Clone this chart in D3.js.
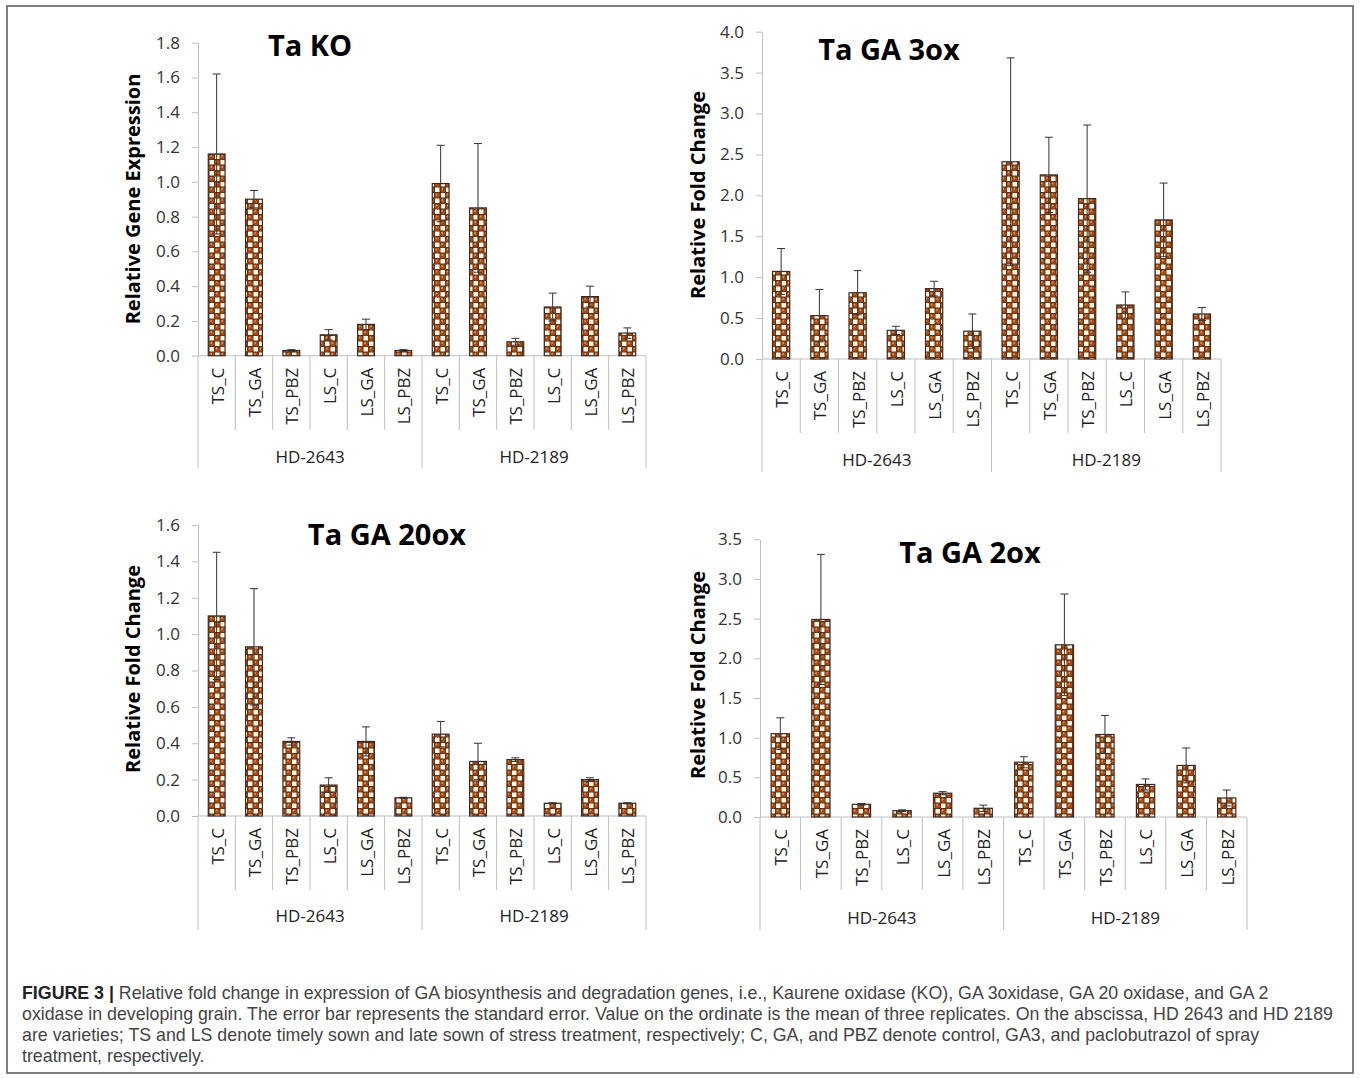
<!DOCTYPE html>
<html>
<head>
<meta charset="utf-8">
<script src="https://cdn.jsdelivr.net/npm/d3@7"></script>
<style>
  body { margin: 0; background: #fff; }
  .tick-label { font-family: "Open Sans", sans-serif; font-size: 17px; fill: #333; }
  .cat-label { font-family: "Open Sans", sans-serif; font-size: 17px; fill: #222; }
  .title { font-family: "Open Sans", sans-serif; font-size: 29px; font-weight: bold; fill: #000; }
  .axis-title { font-family: "Open Sans", sans-serif; font-size: 20px; font-weight: bold; fill: #000; }
  .caption { font-family: "Liberation Sans", Arial, sans-serif; font-size: 17.8px; fill: #444; }
</style>
</head>
<body>
<div id="chart"></div>
<script>
// svg area
var svgWidth = 1362;
var svgHeight = 1079;

// categories
var treatments = ["TS_C", "TS_GA", "TS_PBZ", "LS_C", "LS_GA", "LS_PBZ"];
var varieties = ["HD-2643", "HD-2189"];

// Ta KO
var koMean = [1.16, 0.90, 0.03, 0.12, 0.18, 0.03, 0.99, 0.85, 0.08, 0.28, 0.34, 0.13];
var koErr = [0.46, 0.05, 0.005, 0.03, 0.03, 0.005, 0.22, 0.37, 0.02, 0.08, 0.06, 0.03];

// Ta GA 3ox
var ga3Mean = [1.07, 0.53, 0.81, 0.35, 0.86, 0.34, 2.41, 2.25, 1.96, 0.66, 1.70, 0.55];
var ga3Err = [0.28, 0.32, 0.27, 0.05, 0.09, 0.21, 1.27, 0.46, 0.90, 0.16, 0.45, 0.08];

// Ta GA 20ox
var ga20Mean = [1.10, 0.93, 0.41, 0.17, 0.41, 0.10, 0.45, 0.30, 0.31, 0.07, 0.20, 0.07];
var ga20Err = [0.35, 0.32, 0.02, 0.04, 0.08, 0.003, 0.07, 0.10, 0.01, 0.003, 0.01, 0.003];

// Ta GA 2ox
var ga2Mean = [1.05, 2.49, 0.16, 0.08, 0.30, 0.11, 0.69, 2.17, 1.04, 0.41, 0.65, 0.24];
var ga2Err = [0.20, 0.82, 0.01, 0.01, 0.02, 0.04, 0.07, 0.64, 0.24, 0.07, 0.22, 0.10];

// y axis ticks
var koTicks = [0, 0.2, 0.4, 0.6, 0.8, 1.0, 1.2, 1.4, 1.6, 1.8];
var ga3Ticks = [0, 0.5, 1.0, 1.5, 2.0, 2.5, 3.0, 3.5, 4.0];
var ga20Ticks = [0, 0.2, 0.4, 0.6, 0.8, 1.0, 1.2, 1.4, 1.6];
var ga2Ticks = [0, 0.5, 1.0, 1.5, 2.0, 2.5, 3.0, 3.5];

var captionLines = [
    "Relative fold change in expression of GA biosynthesis and degradation genes, i.e., Kaurene oxidase (KO), GA 3oxidase, GA 20 oxidase, and GA 2",
    "oxidase in developing grain. The error bar represents the standard error. Value on the ordinate is the mean of three replicates. On the abscissa, HD 2643 and HD 2189",
    "are varieties; TS and LS denote timely sown and late sown of stress treatment, respectively; C, GA, and PBZ denote control, GA3, and paclobutrazol of spray",
    "treatment, respectively."
];

// one label per bar
var labels = [];
varieties.forEach(function(v) {
    treatments.forEach(function(t) { labels.push({variety: v, treatment: t}); });
});

// panel layout
var panels = [
    {title: "Ta KO", yTitle: "Relative Gene Expression", mean: koMean, err: koErr, ticks: koTicks,
     x0: 198, x1: 646, yTop: 42.7, yZero: 355.7, titleX: 310, titleY: 56, yTitleX: 133, yTitleY: 199,
     sepY: 430, grpY: 468, grpLabelY: 463},
    {title: "Ta GA 3ox", yTitle: "Relative Fold Change", mean: ga3Mean, err: ga3Err, ticks: ga3Ticks,
     x0: 762, x1: 1221, yTop: 31.7, yZero: 359, titleX: 889, titleY: 60, yTitleX: 698, yTitleY: 195,
     sepY: 433, grpY: 472, grpLabelY: 466},
    {title: "Ta GA 20ox", yTitle: "Relative Fold Change", mean: ga20Mean, err: ga20Err, ticks: ga20Ticks,
     x0: 198, x1: 646, yTop: 525, yZero: 816, titleX: 387, titleY: 545, yTitleX: 133, yTitleY: 669,
     sepY: 890, grpY: 930, grpLabelY: 922},
    {title: "Ta GA 2ox", yTitle: "Relative Fold Change", mean: ga2Mean, err: ga2Err, ticks: ga2Ticks,
     x0: 760, x1: 1247, yTop: 539.3, yZero: 817, titleX: 970, titleY: 563, yTitleX: 698, yTitleY: 675,
     sepY: 890, grpY: 930, grpLabelY: 924}
];

var svg = d3.select("#chart")
    .append("svg")
    .attr("width", svgWidth)
    .attr("height", svgHeight);

// bar fill pattern (brown spheres on a cream checker)
var defs = svg.append("defs");
var pattern = defs.append("pattern")
    .attr("id", "spheres")
    .attr("patternUnits", "userSpaceOnUse")
    .attr("width", 11)
    .attr("height", 11);
pattern.append("rect").attr("width", 11).attr("height", 11).attr("fill", "#6a2e0c");
pattern.append("rect").attr("x", 6).attr("y", 0.5).attr("width", 4.5).attr("height", 4.5).attr("fill", "#fff8ea");
pattern.append("rect").attr("x", 0.5).attr("y", 6).attr("width", 4.5).attr("height", 4.5).attr("fill", "#fff8ea");
pattern.append("circle").attr("cx", 2.75).attr("cy", 2.75).attr("r", 2.6).attr("fill", "#a34c17");
pattern.append("circle").attr("cx", 8.25).attr("cy", 8.25).attr("r", 2.6).attr("fill", "#a34c17");
pattern.append("circle").attr("cx", 2.1).attr("cy", 2.0).attr("r", 0.9).attr("fill", "#dc9a62");
pattern.append("circle").attr("cx", 7.6).attr("cy", 7.5).attr("r", 0.9).attr("fill", "#dc9a62");

// outer frame
svg.append("rect")
    .attr("x", 7)
    .attr("y", 6)
    .attr("width", 1346)
    .attr("height", 1067)
    .attr("fill", "none")
    .attr("stroke", "#555")
    .attr("stroke-width", 1.5);

panels.forEach(function(p) {
    var g = svg.append("g");
    var maxVal = p.ticks[p.ticks.length - 1];

    // scales
    var yScale = d3.scaleLinear()
        .domain([0, maxVal])
        .range([p.yZero, p.yTop]);

    var xScale = d3.scaleBand()
        .domain(d3.range(labels.length))
        .range([p.x0, p.x1])
        .padding(0);

    var bw = xScale.bandwidth();
    var barW = bw * 0.45;

    // y axis
    var leftAxis = d3.axisLeft(yScale)
        .tickValues(p.ticks)
        .tickFormat(d3.format(".1f"))
        .tickSizeInner(6)
        .tickSizeOuter(0)
        .tickPadding(12);

    var yAxisG = g.append("g")
        .attr("transform", `translate(${p.x0}, 0)`)
        .call(leftAxis);
    yAxisG.select(".domain").attr("stroke", "#bfbfbf");
    yAxisG.selectAll(".tick line").attr("stroke", "#bfbfbf");
    yAxisG.selectAll(".tick text")
        .attr("class", "tick-label")
        .attr("fill", null);

    // category axis line
    g.append("line")
        .attr("x1", p.x0).attr("x2", p.x1)
        .attr("y1", p.yZero).attr("y2", p.yZero)
        .attr("stroke", "#bfbfbf");

    // separators between bars
    var bounds = d3.range(labels.length + 1);
    g.selectAll(".sep")
        .data(bounds)
        .enter()
        .append("line")
        .attr("x1", d => p.x0 + d * bw)
        .attr("x2", d => p.x0 + d * bw)
        .attr("y1", p.yZero)
        .attr("y2", d => (d % treatments.length === 0) ? p.grpY : p.sepY)
        .attr("stroke", "#bfbfbf");

    // bars
    g.selectAll(".bar")
        .data(p.mean)
        .enter()
        .append("rect")
        .attr("x", (d, i) => xScale(i) + (bw - barW) / 2)
        .attr("y", d => yScale(d))
        .attr("width", barW)
        .attr("height", d => p.yZero - yScale(d))
        .attr("fill", "url(#spheres)")
        .attr("stroke", "#3a2a22")
        .attr("stroke-width", 1.2);

    // error bars
    var errG = g.append("g")
        .attr("stroke", "#333")
        .attr("stroke-width", 1);

    p.mean.forEach(function(m, i) {
        var cx = xScale(i) + bw / 2;
        var hi = yScale(m + p.err[i]);
        var lo = yScale(Math.max(0, m - p.err[i]));
        errG.append("line").attr("x1", cx).attr("x2", cx).attr("y1", hi).attr("y2", lo);
        errG.append("line").attr("x1", cx - 4).attr("x2", cx + 4).attr("y1", hi).attr("y2", hi);
        errG.append("line").attr("x1", cx - 4).attr("x2", cx + 4).attr("y1", lo).attr("y2", lo);
    });

    // category labels
    g.selectAll(".cat")
        .data(labels)
        .enter()
        .append("text")
        .attr("class", "cat-label")
        .attr("transform", (d, i) => `translate(${xScale(i) + bw / 2 + 1}, ${p.yZero + 12}) rotate(-90)`)
        .attr("text-anchor", "end")
        .attr("dy", "0.35em")
        .text(d => d.treatment);

    // variety labels
    g.selectAll(".grp")
        .data(varieties)
        .enter()
        .append("text")
        .attr("class", "cat-label")
        .attr("x", (d, i) => p.x0 + (i + 0.5) * treatments.length * bw)
        .attr("y", p.grpLabelY)
        .attr("text-anchor", "middle")
        .text(d => d);

    // titles
    g.append("text")
        .attr("class", "title")
        .attr("x", p.titleX)
        .attr("y", p.titleY)
        .attr("text-anchor", "middle")
        .text(p.title);

    g.append("text")
        .attr("class", "axis-title")
        .attr("transform", `translate(${p.yTitleX}, ${p.yTitleY}) rotate(-90)`)
        .attr("text-anchor", "middle")
        .attr("dy", "0.35em")
        .text(p.yTitle);
});

// caption
var caption = svg.append("g");
caption.selectAll("text")
    .data(captionLines)
    .enter()
    .append("text")
    .attr("class", "caption")
    .attr("x", 22)
    .attr("y", (d, i) => 999 + i * 21)
    .each(function(d, i) {
        var t = d3.select(this);
        if (i === 0) {
            t.append("tspan").attr("font-weight", "bold").attr("fill", "#222").text("FIGURE 3 | ");
        }
        t.append("tspan").text(d);
    });
</script>
</body>
</html>
